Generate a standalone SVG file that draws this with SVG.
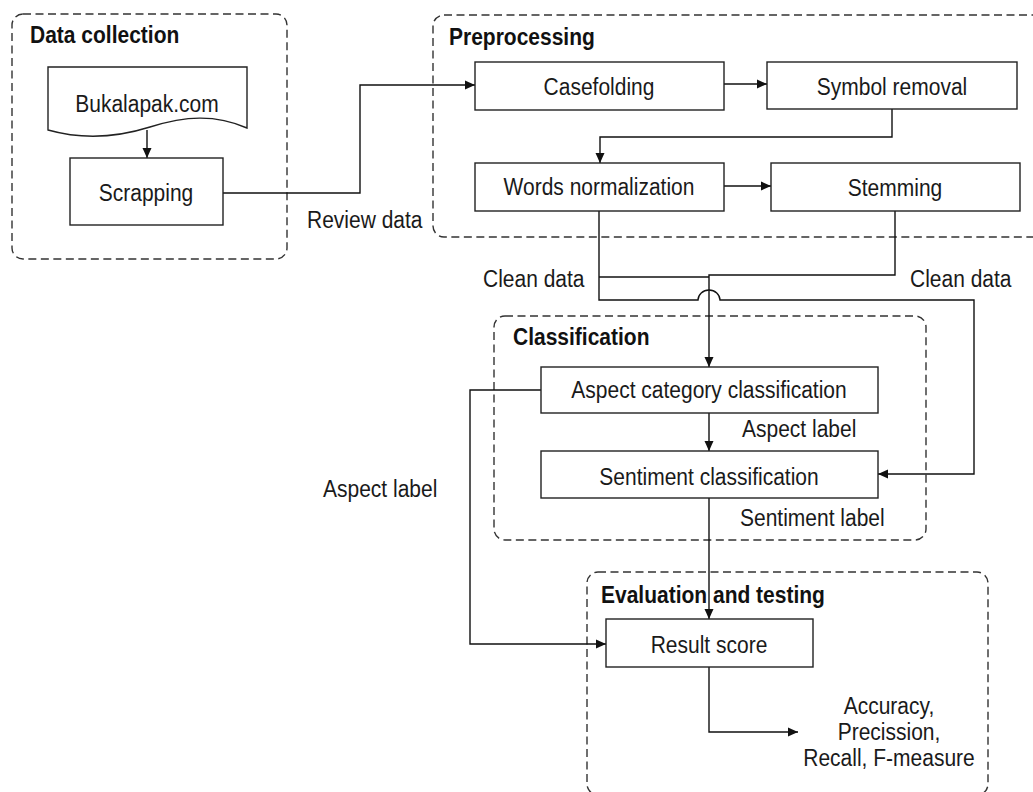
<svg xmlns="http://www.w3.org/2000/svg" width="1033" height="792" viewBox="0 0 1033 792">
<style>
.grp{fill:none;stroke:#333;stroke-width:1.4;stroke-dasharray:8,4.5}
.box{fill:#fff;stroke:#222;stroke-width:1.4}
.t{font-family:"Liberation Sans",Arial,sans-serif;font-size:21px;fill:#1a1a1a;text-anchor:middle}
.l{font-family:"Liberation Sans",Arial,sans-serif;font-size:21px;fill:#1a1a1a}
.h{font-family:"Liberation Sans",Arial,sans-serif;font-size:21px;font-weight:bold;fill:#111}
.c{fill:none;stroke:#111;stroke-width:1.4}
</style>
<defs>
<marker id="a" viewBox="0 0 10 10" refX="10" refY="5" markerWidth="10" markerHeight="10" markerUnits="userSpaceOnUse" orient="auto">
<path d="M0,0.5 L10,5 L0,9.5 Z" fill="#111"/>
</marker>
</defs>
<rect width="1033" height="792" fill="#fff"/>

<g id="group-data-collection">
<rect class="grp" x="12" y="14" width="275" height="245" rx="11"/>
<text class="h" transform="translate(30,43) scale(1,1.1)">Data collection</text>
</g>
<g id="group-preprocessing">
<rect class="grp" x="433" y="15" width="700" height="222" rx="11"/>
<text class="h" transform="translate(449,45) scale(1,1.1)">Preprocessing</text>
</g>
<g id="group-classification">
<rect class="grp" x="494" y="316" width="432" height="224" rx="11"/>
<text class="h" transform="translate(513,345) scale(1,1.1)">Classification</text>
</g>
<g id="group-evaluation">
<rect class="grp" x="587" y="572" width="401" height="223" rx="11"/>
<text class="h" transform="translate(601,603) scale(1,1.1)">Evaluation and testing</text>
</g>

<g id="connectors">
<path class="c" d="M147,130 V158" marker-end="url(#a)"/>
<path class="c" d="M223,193 H360 V85 H475" marker-end="url(#a)"/>
<path class="c" d="M724,84 H767" marker-end="url(#a)"/>
<path class="c" d="M892,109 V137 H600 V163" marker-end="url(#a)"/>
<path class="c" d="M724,186 H771" marker-end="url(#a)"/>
<path class="c" d="M599,211 V300 H698 A11,10 0 0 1 720,300 H974 V474 H878" marker-end="url(#a)"/>
<path class="c" d="M599,277 H709"/>
<path class="c" d="M895,211 V275 H709 V367" marker-end="url(#a)"/>
<path class="c" d="M709,413 V451" marker-end="url(#a)"/>
<path class="c" d="M541,390 H470 V644 H606" marker-end="url(#a)"/>
<path class="c" d="M709,498 V619" marker-end="url(#a)"/>
<path class="c" d="M709,667 V732 H798" marker-end="url(#a)"/>
<text class="l" transform="translate(307,228) scale(1,1.1)">Review data</text>
<text class="l" transform="translate(483,287) scale(1,1.1)">Clean data</text>
<text class="l" transform="translate(910,287) scale(1,1.1)">Clean data</text>
<text class="l" transform="translate(742,437) scale(1,1.1)">Aspect label</text>
<text class="l" transform="translate(740,526) scale(1,1.1)">Sentiment label</text>
<text class="l" transform="translate(323,497) scale(1,1.1)">Aspect label</text>
</g>

<g id="node-bukalapak">
<path class="box" d="M48,67 H247 V128 C215,114 185,116 150,127 C112,139 80,139 48,130 Z"/>
<text class="t" transform="translate(147,112) scale(1,1.1)">Bukalapak.com</text>
</g>
<g id="node-scrapping">
<rect class="box" x="70" y="158" width="153" height="67"/>
<text class="t" transform="translate(146,201) scale(1,1.1)">Scrapping</text>
</g>
<g id="node-casefolding">
<rect class="box" x="475" y="62" width="249" height="48"/>
<text class="t" transform="translate(599,95) scale(1,1.1)">Casefolding</text>
</g>
<g id="node-symbol-removal">
<rect class="box" x="767" y="62" width="250" height="47"/>
<text class="t" transform="translate(892,95) scale(1,1.1)">Symbol removal</text>
</g>
<g id="node-words-normalization">
<rect class="box" x="475" y="163" width="249" height="48"/>
<text class="t" transform="translate(599,195) scale(1,1.1)">Words normalization</text>
</g>
<g id="node-stemming">
<rect class="box" x="771" y="163" width="249" height="48"/>
<text class="t" transform="translate(895,196) scale(1,1.1)">Stemming</text>
</g>
<g id="node-aspect-category">
<rect class="box" x="541" y="367" width="337" height="46"/>
<text class="t" transform="translate(709,398) scale(1,1.1)">Aspect category classification</text>
</g>
<g id="node-sentiment">
<rect class="box" x="541" y="451" width="337" height="47"/>
<text class="t" transform="translate(709,485) scale(1,1.1)">Sentiment classification</text>
</g>
<g id="node-result-score">
<rect class="box" x="606" y="619" width="207" height="48"/>
<text class="t" transform="translate(709,653) scale(1,1.1)">Result score</text>
</g>
<g id="node-metrics">
<text class="t" transform="translate(889,714) scale(1,1.1)">Accuracy,</text>
<text class="t" transform="translate(889,740) scale(1,1.1)">Precission,</text>
<text class="t" transform="translate(889,766) scale(1,1.1)">Recall, F-measure</text>
</g>
</svg>
